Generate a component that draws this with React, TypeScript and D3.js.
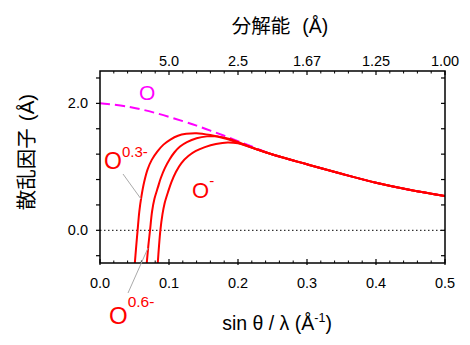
import React from 'react';
import * as d3 from 'd3';

// ---- data ----
const xTickValues = [0, 0.1, 0.2, 0.3, 0.4, 0.5];
const xTickLabels = ['0.0', '0.1', '0.2', '0.3', '0.4', '0.5'];
const xMinorValues = [0.02, 0.04, 0.06, 0.08, 0.12, 0.14, 0.16, 0.18, 0.22, 0.24, 0.26, 0.28, 0.32, 0.34, 0.36, 0.38, 0.42, 0.44, 0.46, 0.48];
const topTickValues = [0.1, 0.2, 0.3, 0.4, 0.5];
const topTickLabels = ['5.0', '2.5', '1.67', '1.25', '1.00'];
const yTickValues = [-0.4, 0, 0.4, 0.8, 1.2, 1.6, 2.0, 2.4];
const yLabelValues = [0, 2.0];
const yLabelTexts = ['0.0', '2.0'];

const tailS = [0.25, 0.3, 0.35, 0.4, 0.45, 0.5];
const tailF = [1.195, 1.04, 0.89, 0.75, 0.635, 0.54];

const neutralS = [0, 0.04, 0.08, 0.12, 0.14, 0.16, 0.18, 0.2, 0.22];
const neutralF = [2.0, 1.95, 1.85, 1.72, 1.65, 1.57, 1.49, 1.405, 1.32];

const ion03S = [0.05, 0.0525, 0.0545, 0.057, 0.06, 0.064, 0.069, 0.075, 0.083, 0.092, 0.102, 0.113, 0.125, 0.14, 0.16, 0.18, 0.2, 0.225];
const ion03F = [-0.58, -0.25, 0.0, 0.3, 0.53, 0.76, 0.96, 1.11, 1.24, 1.35, 1.43, 1.49, 1.52, 1.53, 1.5, 1.45, 1.38, 1.285];

const ion06S = [0.0675, 0.07, 0.0725, 0.0755, 0.079, 0.084, 0.088, 0.094, 0.101, 0.108, 0.116, 0.126, 0.14, 0.155, 0.17, 0.188, 0.205, 0.225];
const ion06F = [-0.55, -0.25, 0.0, 0.3, 0.5, 0.68, 0.82, 0.98, 1.12, 1.23, 1.32, 1.39, 1.45, 1.48, 1.48, 1.44, 1.37, 1.285];

const ion1S = [0.0835, 0.0855, 0.0875, 0.0905, 0.0935, 0.0985, 0.1035, 0.11, 0.118, 0.128, 0.139, 0.152, 0.168, 0.185, 0.2, 0.215, 0.23];
const ion1F = [-0.55, -0.25, 0.0, 0.25, 0.42, 0.6, 0.76, 0.92, 1.06, 1.17, 1.25, 1.31, 1.36, 1.385, 1.37, 1.32, 1.265];

const FONT = '"Liberation Sans", Arial, sans-serif';
const CJK = '"Noto Sans CJK JP", "Noto Sans CJK SC", sans-serif';

type P = [number, number];
const zipPts = (s: number[], f: number[]): P[] => s.map((v, i) => [v, f[i]] as P);

export default function App() {
  const left = 100, right = 445, top = 71, bottom = 263;
  const x = d3.scaleLinear().domain([0, 0.5]).range([left, right]);
  const y = d3.scaleLinear().domain([-0.515, 2.51]).range([bottom, top]);
  const line = d3.line<P>().x(d => x(d[0])).y(d => y(d[1])).curve(d3.curveCatmullRom.alpha(0.5));

  const neutral = zipPts(neutralS.concat(tailS), neutralF.concat(tailF));
  const ions = [
    zipPts(ion03S.concat(tailS), ion03F.concat(tailF)),
    zipPts(ion06S.concat(tailS), ion06F.concat(tailF)),
    zipPts(ion1S.concat(tailS), ion1F.concat(tailF)),
  ];

  return (
    <svg width={470} height={345} style={{ position: 'absolute', left: 0, top: 0, background: '#fff' }}>
      <defs>
        <clipPath id="plot">
          <rect x={left} y={top} width={right - left} height={bottom - top} />
        </clipPath>
      </defs>
      <rect x={0} y={0} width={470} height={345} fill="#fff" />
      {/* zero line */}
      <line x1={left} x2={right} y1={y(0)} y2={y(0)} stroke="#000" strokeWidth={1} strokeDasharray="1.5,2.5" />
      <g clipPath="url(#plot)">
        <path d={line(neutral) || ''} fill="none" stroke="#ff00ff" strokeWidth={2} strokeDasharray="10,5" />
        {ions.map((d, i) => (
          <path key={i} d={line(d) || ''} fill="none" stroke="#ff0000" strokeWidth={2} />
        ))}
      </g>
      {/* frame */}
      <rect x={left} y={top} width={right - left} height={bottom - top} fill="none" stroke="#000" strokeWidth={1.5} />
      {/* bottom ticks */}
      {xTickValues.map((v, i) => (
        <line key={'bx' + i} x1={x(v)} x2={x(v)} y1={bottom - 4} y2={bottom + 2} stroke="#000" strokeWidth={1.2} />
      ))}
      {xMinorValues.map((v, i) => (
        <line key={'bm' + i} x1={x(v)} x2={x(v)} y1={bottom - 2.5} y2={bottom} stroke="#000" strokeWidth={1} />
      ))}
      {/* top ticks */}
      {topTickValues.map((v, i) => (
        <line key={'tx' + i} x1={x(v)} x2={x(v)} y1={top} y2={top + 4} stroke="#000" strokeWidth={1.2} />
      ))}
      {xMinorValues.map((v, i) => (
        <line key={'tm' + i} x1={x(v)} x2={x(v)} y1={top} y2={top + 2.5} stroke="#000" strokeWidth={1} />
      ))}
      {/* y ticks */}
      {yTickValues.map((v, i) => (
        <g key={'yt' + i}>
          <line x1={left - 4} x2={left} y1={y(v)} y2={y(v)} stroke="#000" strokeWidth={1.2} />
          <line x1={right - 4} x2={right} y1={y(v)} y2={y(v)} stroke="#000" strokeWidth={1.2} />
        </g>
      ))}
      {/* tick labels */}
      {xTickValues.map((v, i) => (
        <text key={'bl' + i} x={x(v)} y={288} textAnchor="middle" fontFamily={FONT} fontSize={14.5} fill="#000">{xTickLabels[i]}</text>
      ))}
      {topTickValues.map((v, i) => (
        <text key={'tl' + i} x={x(v)} y={66} textAnchor="middle" fontFamily={FONT} fontSize={14.5} fill="#000">{topTickLabels[i]}</text>
      ))}
      {yLabelValues.map((v, i) => (
        <text key={'yl' + i} x={88} y={y(v) + 5} textAnchor="end" fontFamily={FONT} fontSize={14.5} fill="#000">{yLabelTexts[i]}</text>
      ))}
      {/* axis titles */}
      <text x={280} y={33} textAnchor="middle" fontSize={19.5} fill="#000">
        <tspan fontFamily={CJK}>分解能</tspan>
        <tspan fontFamily={FONT} dx={12}>(Å)</tspan>
      </text>
      <text x={277} y={330} textAnchor="middle" fontFamily={FONT} fontSize={19.5} fill="#000">
        sin θ / λ (Å<tspan dy={-8} fontSize={12.5}>-1</tspan><tspan dy={8}>)</tspan>
      </text>
      <text transform="translate(34,152) rotate(-90)" textAnchor="middle" fontSize={20.5} fill="#000">
        <tspan fontFamily={CJK}>散乱因子</tspan>
        <tspan fontFamily={FONT} dx={7}>(Å)</tspan>
      </text>
      {/* leader lines */}
      <line x1={123} y1={174} x2={141} y2={199} stroke="#aaa" strokeWidth={1} />
      <line x1={128} y1={293} x2={148} y2={248} stroke="#aaa" strokeWidth={1} />
      {/* series labels */}
      <text x={139} y={100} fontFamily={FONT} fontSize={21} fill="#ff00ff">O</text>
      <text x={104} y={169} fontFamily={FONT} fontSize={23} fill="#ff0000">
        O<tspan dy={-12} fontSize={15}>0.3-</tspan>
      </text>
      <text x={192} y={198} fontFamily={FONT} fontSize={22} fill="#ff0000">
        O<tspan dy={-12} fontSize={15}>-</tspan>
      </text>
      <text x={109} y={324} fontFamily={FONT} fontSize={24} fill="#ff0000">
        O<tspan dy={-17} fontSize={15.5}>0.6-</tspan>
      </text>
    </svg>
  );
}
